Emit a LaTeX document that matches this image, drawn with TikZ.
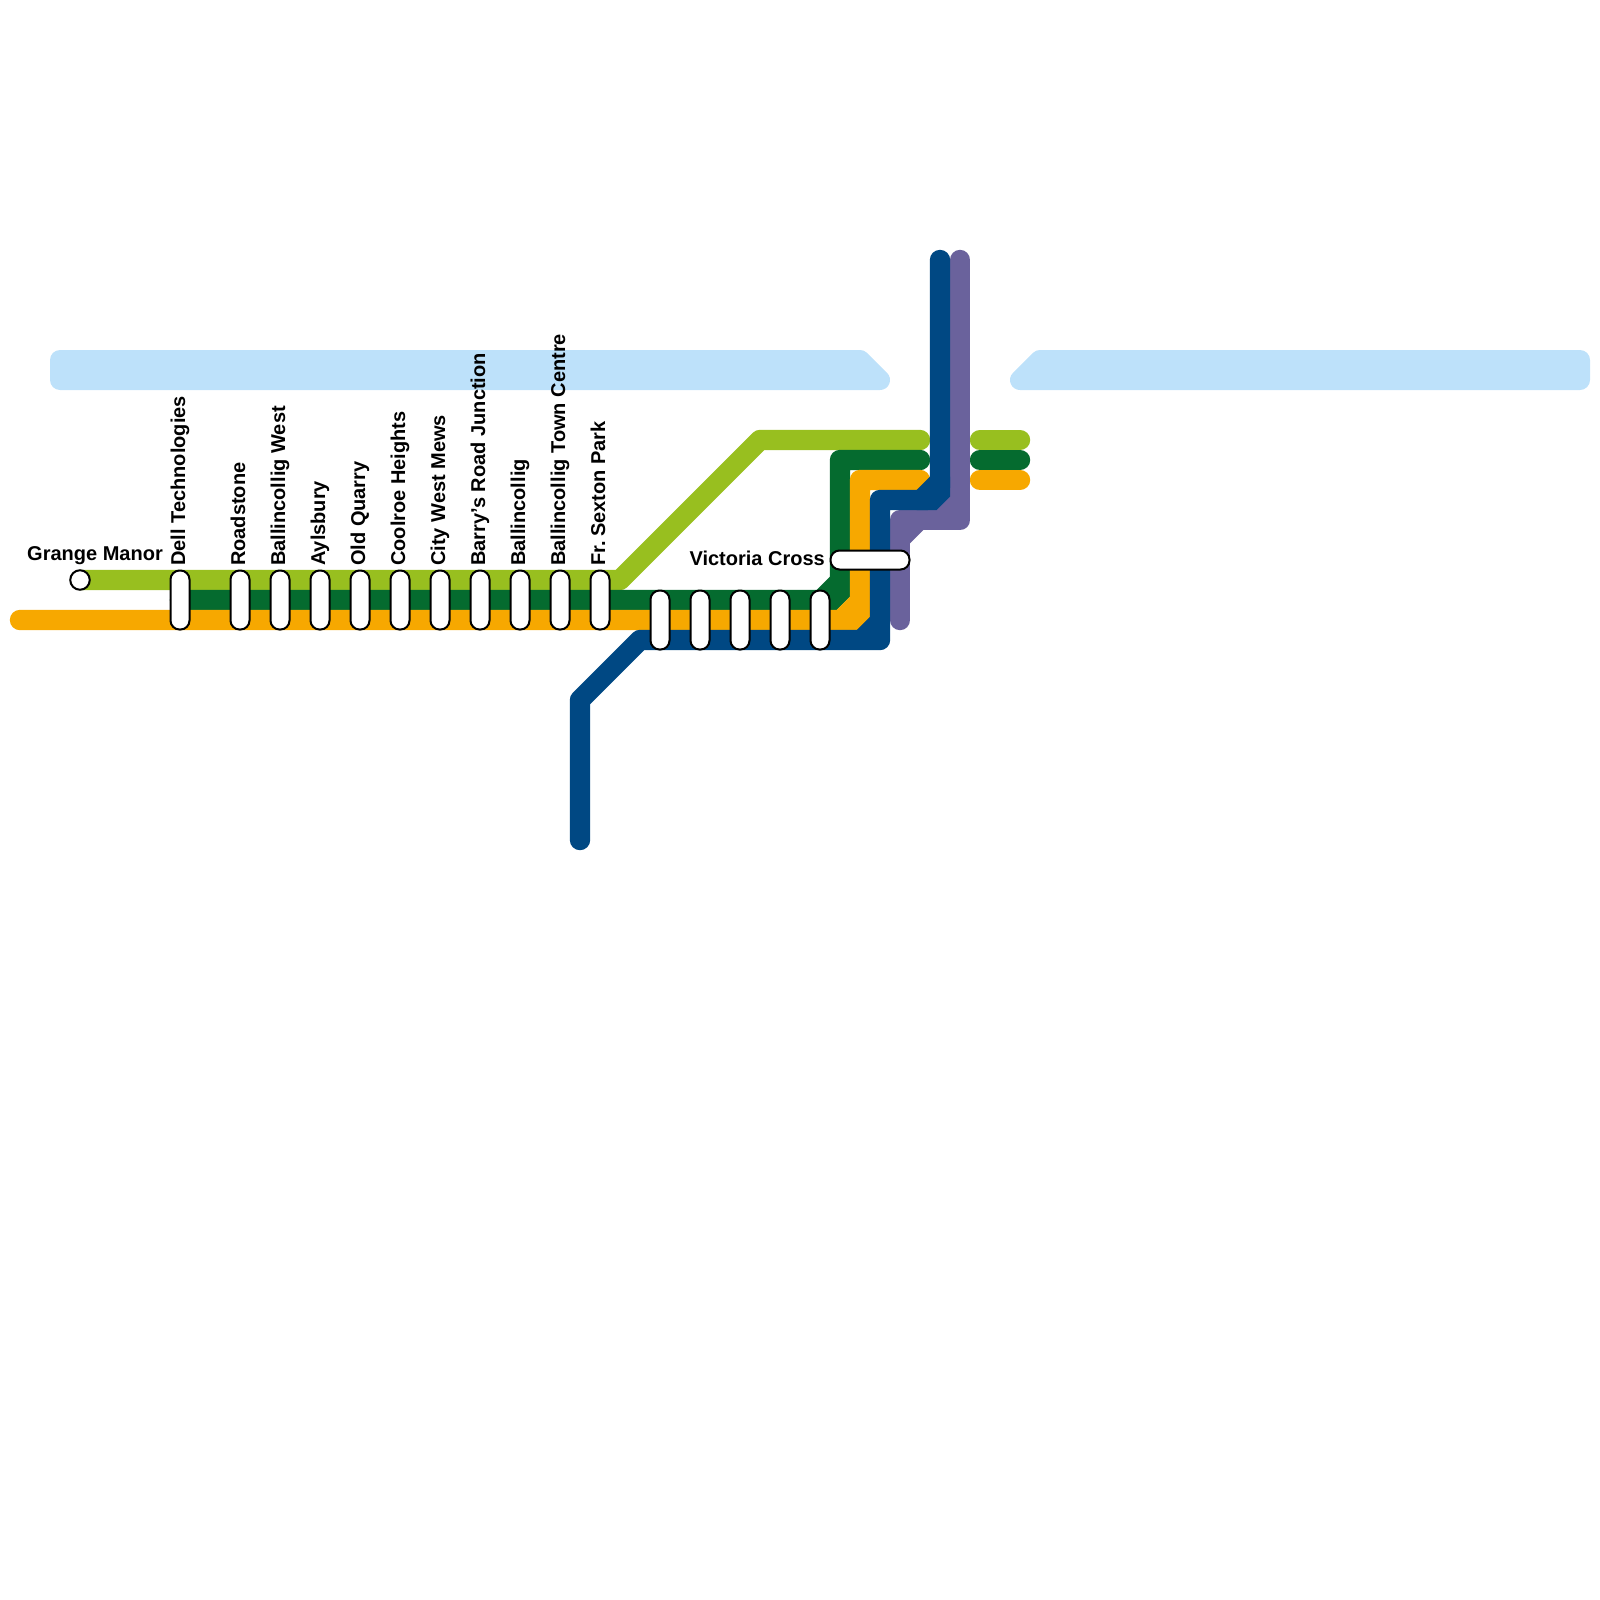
\documentclass[tikz,border=0pt]{standalone}
\usepackage{fontspec}
\setmainfont{Liberation Sans}
\definecolor{riverblue}{HTML}{BDE1FA}
\definecolor{limeline}{HTML}{98BF1F}
\definecolor{greenline}{HTML}{056B2F}
\definecolor{orangeline}{HTML}{F7A800}
\definecolor{blueline}{HTML}{004883}
\definecolor{purpleline}{HTML}{6A629C}
\begin{document}
\begin{tikzpicture}[
		x=1pt, y=-1pt,
		l/.style = {line width=20.4pt, line cap=round, line join=round},
		w/.style = {fill=riverblue, draw=riverblue, line width=20pt, line join=round},
		p/.style = {rectangle, draw=black, fill=white, line width=2pt, rounded corners=9pt, minimum width=19pt, minimum height=59pt, inner sep=0pt},
		h/.style = {p, minimum width=79pt, minimum height=19pt},
		c/.style = {circle, draw=black, fill=white, line width=2pt, minimum size=19.5pt, inner sep=0pt},
		t/.style = {font=\fontsize{20}{24}\selectfont\bfseries, inner sep=0pt, anchor=base east},
		v/.style = {font=\fontsize{20}{24}\selectfont\bfseries, inner sep=0pt, anchor=base west, rotate=90}
		]
		\useasboundingbox (0,0) rectangle (1600,1600);
		
		% === === River === ===
		\draw[w]	(60,360) -- (860,360) -- (880,380) -- (60,380) -- cycle;
		\draw[w]	(1040,360) -- (1580,360) -- (1580,380) -- (1020,380) -- cycle;
		
		% === === Line ends === ===
		\coordinate	(lime-w)	at	(80, 580);
		\coordinate	(lime-e)	at	(920, 440);
		\coordinate	(green-w)	at	(180, 600);
		\coordinate	(green-e)	at	(920, 460);
		\coordinate	(orange-w)	at	(20, 620);
		\coordinate	(orange-e)	at	(920, 480);
		\coordinate	(blue-s)	at	(580, 840);
		\coordinate	(blue-n)	at	(940, 260);
		\coordinate	(purple-n)	at	(960, 260);
		\coordinate	(purple-s)	at	(900, 620);
		
		% === === Lines === ===
		\draw[l, limeline]		(lime-w) -- (620, 580) -- (760, 440) -- (lime-e);
		\draw[l, limeline]		(980, 440) -- (1020, 440);
		
		\draw[l, greenline]		(green-w) -- (826.7, 600) -- (840, 586.7) -- (840, 460) -- (green-e);
		\fill[greenline]		(816.7, 590) -- (830, 576.7) -- (850, 576.7) -- (850, 596.7) -- (836.7, 610) -- (816.7, 610) -- cycle;
		\draw[l, greenline]		(980, 460) -- (1020, 460);
		
		\fill[blueline]			(850, 630) -- (870, 630) -- (870, 610) -- cycle;
		\draw[l, orangeline]	(orange-w) -- (846.7, 620) -- (860, 606.7) -- (860, 480) -- (orange-e);
		\fill[orangeline]		(836.7, 610) -- (850, 596.7) -- (870, 596.7) -- (870, 616.7) -- (856.7, 630) -- (836.7, 630) -- cycle;
		\draw[l, orangeline]	(980, 480) -- (1020, 480);
		
		\draw[l, purpleline]	(purple-n) -- (960, 520) -- (900, 520) -- (purple-s);
		\fill[purpleline]		(930, 515) -- (955, 515) -- (955, 490) -- cycle;
		\fill[purpleline]		(905, 530) -- (923.3, 530) -- (905, 548.3) -- cycle;
		
		\draw[l, blueline]		(blue-s) -- (580, 700) -- (640, 640) -- (880, 640) -- (880, 500) -- (926.7, 500) -- (940, 486.7) -- (blue-n);
		\fill[blueline]			(916.7, 490) -- (930, 476.7) -- (950, 476.7) -- (950, 496.7) -- (936.7, 510) -- (916.7, 510) -- cycle;
		
		% === === Nodes === ===
		\node[c]	(grange)	at	(80, 580)	{};
		\node[p]	(dell)		at	(180, 600)	{};
		\node[p]	(road)		at	(240, 600)	{};
		\node[p]	(ballw)		at	(280, 600)	{};
		\node[p]	(ayls)		at	(320, 600)	{};
		\node[p]	(quarry)	at	(360, 600)	{};
		\node[p]	(cool)		at	(400, 600)	{};
		\node[p]	(mews)		at	(440, 600)	{};
		\node[p]	(barry)		at	(480, 600)	{};
		\node[p]	(ball)		at	(520, 600)	{};
		\node[p]	(town)		at	(560, 600)	{};
		\node[p]	(sexton)	at	(600, 600)	{};
		\node[p]	(s1)		at	(660, 620)	{};
		\node[p]	(s2)		at	(700, 620)	{};
		\node[p]	(s3)		at	(740, 620)	{};
		\node[p]	(s4)		at	(780, 620)	{};
		\node[p]	(s5)		at	(820, 620)	{};
		\node[h]	(vic)		at	(870, 560)	{};
		
		% === === Labels === ===
		\node[t]	(grange-t)	at	(163, 560)	{Grange Manor};
		\node[t]	(vic-t)		at	(825, 565)	{Victoria Cross};
		\node[v]	(dell-t)	at	(185, 566)	{Dell Technologies};
		\node[v]	(road-t)	at	(245, 566)	{Roadstone};
		\node[v]	(ballw-t)	at	(285, 566)	{Ballincollig West};
		\node[v]	(ayls-t)	at	(325, 566)	{Aylsbury};
		\node[v]	(quarry-t)	at	(365, 566)	{Old Quarry};
		\node[v]	(cool-t)	at	(405, 566)	{Coolroe Heights};
		\node[v]	(mews-t)	at	(445, 566)	{City West Mews};
		\node[v]	(barry-t)	at	(485, 566)	{Barry's Road Junction};
		\node[v]	(ball-t)	at	(525, 566)	{Ballincollig};
		\node[v]	(town-t)	at	(565, 566)	{Ballincollig Town Centre};
		\node[v]	(sexton-t)	at	(605, 566)	{Fr.\kern-3pt{} Sexton Park};
\end{tikzpicture}
\end{document}
